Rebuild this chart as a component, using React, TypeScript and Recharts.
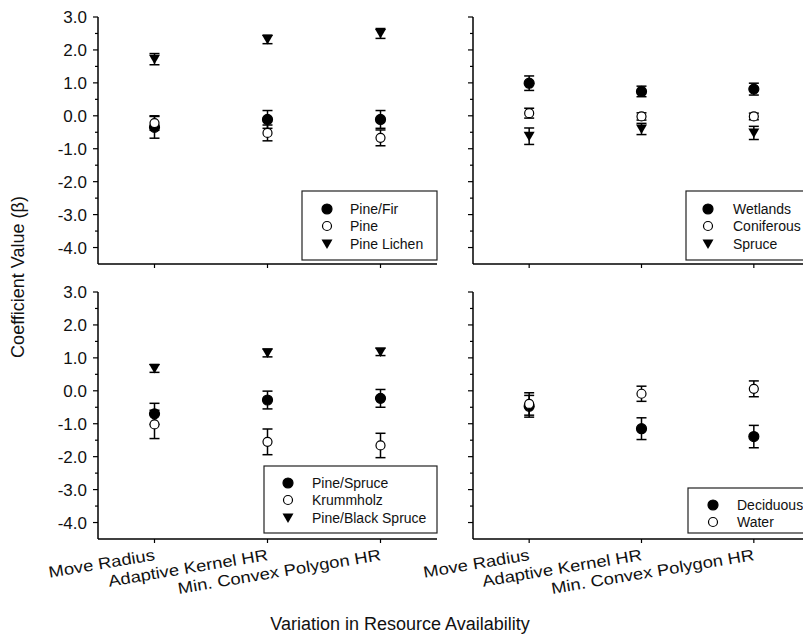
import React from "react";
import { ScatterChart, Scatter, XAxis, YAxis, ErrorBar } from "recharts";

const CATEGORIES = ["Move Radius", "Adaptive Kernel HR", "Min. Convex Polygon HR"];
const Y_TICKS = [-4, -3.5, -3, -2.5, -2, -1.5, -1, -0.5, 0, 0.5, 1, 1.5, 2, 2.5, 3];

// top left
const pineFir = [-0.35, -0.11, -0.11];
const pineFirErr = [0.33, 0.27, 0.27];
const pine = [-0.22, -0.52, -0.67];
const pineErr = [0.22, 0.24, 0.24];
const pineLichen = [1.72, 2.32, 2.5];
const pineLichenErr = [0.17, 0.13, 0.15];

// top right
const wetlands = [0.99, 0.74, 0.81];
const wetlandsErr = [0.22, 0.16, 0.18];
const coniferous = [0.08, -0.02, -0.02];
const coniferousErr = [0.15, 0.11, 0.1];
const spruce = [-0.62, -0.4, -0.52];
const spruceErr = [0.25, 0.17, 0.2];

// bottom left
const pineSpruce = [-0.7, -0.28, -0.23];
const pineSpruceErr = [0.32, 0.27, 0.27];
const krummholz = [-1.02, -1.55, -1.66];
const krummholzErr = [0.43, 0.39, 0.37];
const pineBlackSpruce = [0.68, 1.15, 1.18];
const pineBlackSpruceErr = [0.12, 0.12, 0.11];

// bottom right
const deciduous = [-0.47, -1.15, -1.39];
const deciduousErr = [0.33, 0.33, 0.34];
const water = [-0.4, -0.09, 0.06];
const waterErr = [0.34, 0.23, 0.24];

const FONT = "'Liberation Sans', Arial, sans-serif";

type Kind = "filled" | "open" | "tri";
interface Series {
  name: string;
  kind: Kind;
  values: number[];
  errs: number[];
}

const Marker = ({ kind, cx, cy }: { kind: Kind; cx: number; cy: number }) => {
  if (kind === "tri") {
    return (
      <polygon
        points={`${cx - 5.5},${cy - 4.5} ${cx + 5.5},${cy - 4.5} ${cx},${cy + 5}`}
        fill="#000"
      />
    );
  }
  return (
    <circle
      cx={cx}
      cy={cy}
      r={kind === "filled" ? 5 : 4.5}
      fill={kind === "filled" ? "#000" : "#fff"}
      stroke="#000"
      strokeWidth={1.2}
    />
  );
};

const YTick = (props: any) => {
  const { x, y, payload, showLabel } = props;
  const major = Number.isInteger(payload.value);
  return (
    <g>
      <line x1={x} x2={x - (major ? 5 : 3)} y1={y} y2={y} stroke="#000" strokeWidth={1.2} />
      {showLabel && major && (
        <text x={x - 11} y={y} dy={6} textAnchor="end" fontSize={17} fontFamily={FONT} fill="#111">
          {payload.value.toFixed(1)}
        </text>
      )}
    </g>
  );
};

// labels in the source are slanted ~9deg and a bit wide
const XTick = (props: any) => {
  const { x, y, payload, showLabel } = props;
  return (
    <g>
      <line x1={x} x2={x} y1={y} y2={y + 4} stroke="#000" strokeWidth={1.2} />
      {showLabel && (
        <text
          x={0}
          y={0}
          textAnchor="end"
          fontSize={16}
          fontFamily={FONT}
          fill="#111"
          transform={`translate(${x + 1}, ${y + 21}) rotate(-9.5) scale(1.15, 1)`}
        >
          {payload.value}
        </text>
      )}
    </g>
  );
};

interface PanelProps {
  left: number;
  top: number;
  width: number;
  height: number;
  margin: { top: number; right: number; bottom: number; left: number };
  series: Series[];
  yLabels: boolean;
  xLabels: boolean;
}

function Panel({ left, top, width, height, margin, series, yLabels, xLabels }: PanelProps) {
  return (
    <div style={{ position: "absolute", left, top, width, height }}>
      <ScatterChart width={width} height={height} margin={margin}>
        <XAxis
          dataKey="cat"
          type="category"
          allowDuplicatedCategory={false}
          height={1}
          tickSize={0}
          tickMargin={0}
          axisLine={{ stroke: "#000", strokeWidth: 1.5 }}
          tickLine={false}
          interval={0}
          tick={<XTick showLabel={xLabels} />}
        />
        <YAxis
          dataKey="v"
          type="number"
          domain={[-4.5, 3]}
          ticks={Y_TICKS}
          width={1}
          tickSize={0}
          tickMargin={0}
          axisLine={{ stroke: "#000", strokeWidth: 1.5 }}
          tickLine={false}
          interval={0}
          tick={<YTick showLabel={yLabels} />}
        />
        {series.map((s) => (
          <Scatter
            key={s.name}
            name={s.name}
            data={CATEGORIES.map((c, i) => ({ cat: c, v: s.values[i], e: s.errs[i] }))}
            isAnimationActive={false}
            shape={(p: any) => <Marker kind={s.kind} cx={p.cx} cy={p.cy} />}
          >
            <ErrorBar dataKey="e" direction="y" width={5} stroke="#000" strokeWidth={1.5} />
          </Scatter>
        ))}
      </ScatterChart>
    </div>
  );
}

function LegendBox({
  x,
  y,
  w,
  h,
  markerX,
  textX,
  rows,
  series,
}: {
  x: number;
  y: number;
  w: number;
  h: number;
  markerX: number;
  textX: number;
  rows: number[];
  series: Series[];
}) {
  return (
    <g>
      <rect x={x} y={y} width={w} height={h} fill="#fff" stroke="#222" strokeWidth={1.2} />
      {series.map((s, i) => (
        <g key={s.name}>
          <Marker kind={s.kind} cx={markerX} cy={rows[i]} />
          <text x={textX} y={rows[i] + 5} fontSize={14} fontFamily={FONT} fill="#111">
            {s.name}
          </text>
        </g>
      ))}
    </g>
  );
}

const topLeft: Series[] = [
  { name: "Pine/Fir", kind: "filled", values: pineFir, errs: pineFirErr },
  { name: "Pine", kind: "open", values: pine, errs: pineErr },
  { name: "Pine Lichen", kind: "tri", values: pineLichen, errs: pineLichenErr },
];
const topRight: Series[] = [
  { name: "Wetlands", kind: "filled", values: wetlands, errs: wetlandsErr },
  { name: "Coniferous", kind: "open", values: coniferous, errs: coniferousErr },
  { name: "Spruce", kind: "tri", values: spruce, errs: spruceErr },
];
const bottomLeft: Series[] = [
  { name: "Pine/Spruce", kind: "filled", values: pineSpruce, errs: pineSpruceErr },
  { name: "Krummholz", kind: "open", values: krummholz, errs: krummholzErr },
  { name: "Pine/Black Spruce", kind: "tri", values: pineBlackSpruce, errs: pineBlackSpruceErr },
];
const bottomRight: Series[] = [
  { name: "Deciduous", kind: "filled", values: deciduous, errs: deciduousErr },
  { name: "Water", kind: "open", values: water, errs: waterErr },
];

export default function App() {
  return (
    <div
      style={{
        position: "absolute",
        left: 0,
        top: 0,
        width: 803,
        height: 640,
        overflow: "hidden",
        background: "#fff",
      }}
    >
      <Panel
        left={0}
        top={0}
        width={440}
        height={280}
        margin={{ top: 17, right: 3, bottom: 15, left: 97 }}
        series={topLeft}
        yLabels
        xLabels={false}
      />
      <Panel
        left={380}
        top={0}
        width={440}
        height={280}
        margin={{ top: 17, right: 10, bottom: 15, left: 92 }}
        series={topRight}
        yLabels={false}
        xLabels={false}
      />
      <Panel
        left={0}
        top={276}
        width={440}
        height={364}
        margin={{ top: 16, right: 3, bottom: 100, left: 97 }}
        series={bottomLeft}
        yLabels
        xLabels
      />
      <Panel
        left={380}
        top={276}
        width={440}
        height={364}
        margin={{ top: 16, right: 10, bottom: 100, left: 92 }}
        series={bottomRight}
        yLabels={false}
        xLabels
      />
      <svg
        width={803}
        height={640}
        style={{ position: "absolute", left: 0, top: 0, pointerEvents: "none" }}
      >
        <LegendBox x={302} y={191} w={135} h={69} markerX={327} textX={350} rows={[209, 226, 244]} series={topLeft} />
        <LegendBox x={686} y={191} w={124} h={69} markerX={708} textX={733} rows={[209, 226, 244]} series={topRight} />
        <LegendBox x={264} y={466} w={173} h={67} markerX={288} textX={312} rows={[483, 500, 518]} series={bottomLeft} />
        <LegendBox x={688} y={488} w={122} h={45} markerX={713} textX={737} rows={[505, 522]} series={bottomRight} />
        <text
          x={24}
          y={277}
          textAnchor="middle"
          fontSize={18}
          fontFamily={FONT}
          fill="#111"
          transform="rotate(-90, 24, 277)"
        >
          Coefficient Value (β)
        </text>
        <text x={400} y={630} textAnchor="middle" fontSize={18} fontFamily={FONT} fill="#111">
          Variation in Resource Availability
        </text>
      </svg>
    </div>
  );
}
